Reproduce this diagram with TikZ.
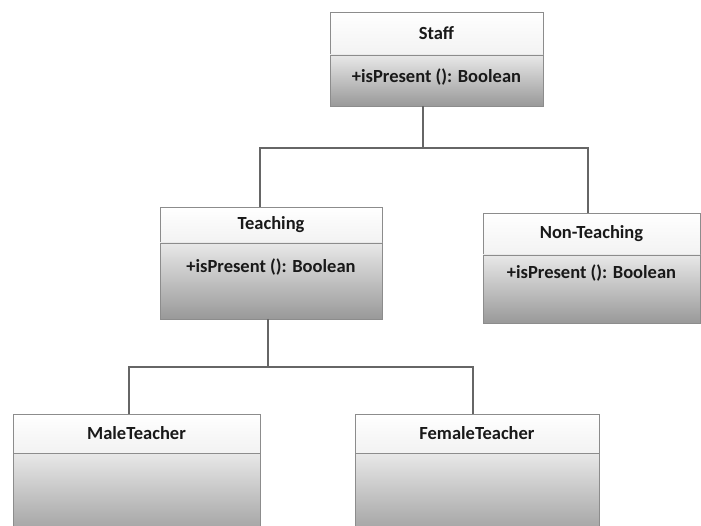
\documentclass[tikz,border=0pt]{standalone}
\usepackage{fontspec}
\setmainfont{Carlito}
\usetikzlibrary{positioning}

\begin{document}
\begin{tikzpicture}[x=1pt, y=-1pt,
    head/.style={draw=black!45, top color=white, bottom color=black!5, minimum width=#1, inner sep=0pt, outer sep=0pt, font=\fontsize{18.5}{22}\selectfont\bfseries, text=black!90},
    body/.style={draw=black!45, top color=black!9, bottom color=black!40, minimum width=#1, inner sep=0pt, outer sep=0pt},
    optext/.style={inner sep=0pt, font=\fontsize{18.5}{22}\selectfont\bfseries, text=black!90},
    link/.style={draw=black!60, line width=1.2pt}
]
    \clip (0,0) rectangle (701,526);
    \fill[white] (0,0) rectangle (701,526);

    % Staff
    \node (staffhead) [head=213pt, minimum height=43pt] at (436.5,33.5) {Staff};
    \node (staffbody) [body=213pt, minimum height=51pt, below=0pt of staffhead] {};
    \node (staffop) [optext, below=14pt of staffhead] {+isPresent (): Boolean};

    % Teaching
    \node (teachhead) [head=222pt, minimum height=36pt] at (271,225) {Teaching};
    \node (teachbody) [body=222pt, minimum height=76pt, below=0pt of teachhead] {};
    \node (teachop) [optext, below=16pt of teachhead] {+isPresent (): Boolean};

    % Non-Teaching
    \node (nonhead) [head=217pt, minimum height=42pt] at (591.5,234) {Non-Teaching};
    \node (nonbody) [body=217pt, minimum height=68pt, below=0pt of nonhead] {};
    \node (nonop) [optext, below=10pt of nonhead] {+isPresent (): Boolean};

    % Male / Female teachers
    \node (malehead) [head=247pt, minimum height=39pt] at (136.5,433.5) {MaleTeacher};
    \node (malebody) [body=247pt, minimum height=90pt, below=0pt of malehead] {};
    \node (femhead) [head=244pt, minimum height=39pt] at (477,433.5) {FemaleTeacher};
    \node (fembody) [body=244pt, minimum height=90pt, below=0pt of femhead] {};

    % Connectors
    \coordinate (bus1) at (423,148);
    \draw[link] ([xshift=-13.5pt]staffbody.south) -- (bus1);
    \draw[link] ([xshift=-11pt]teachhead.north) |- (bus1) -| ([xshift=-3.5pt]nonhead.north);

    \coordinate (bus2) at (268,367);
    \draw[link] ([xshift=-3pt]teachbody.south) -- (bus2);
    \draw[link] ([xshift=-7.5pt]malehead.north) |- (bus2) -| ([xshift=-4pt]femhead.north);
\end{tikzpicture}
\end{document}
